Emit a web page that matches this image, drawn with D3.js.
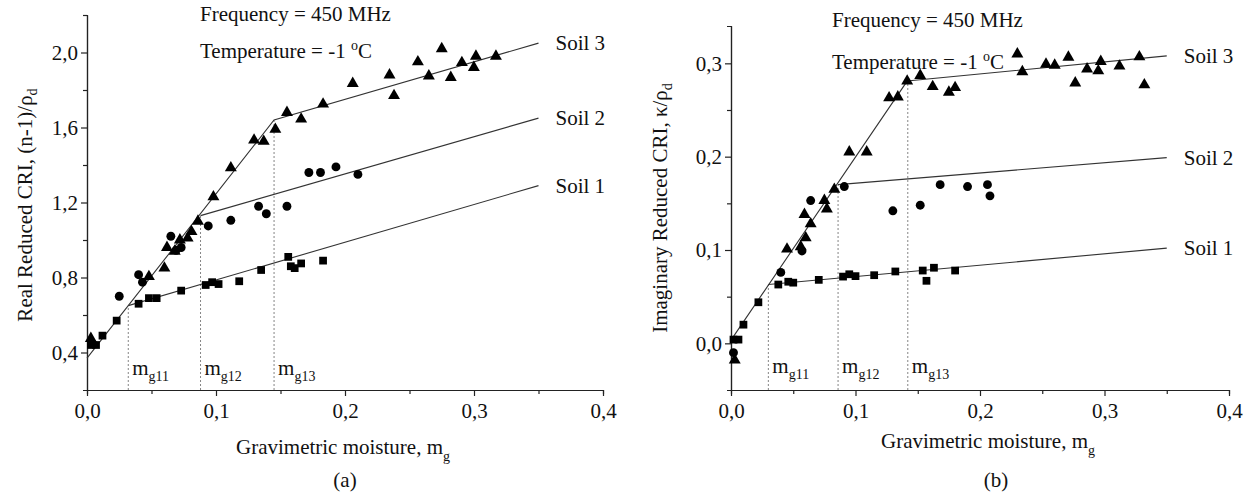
<!DOCTYPE html>
<html>
<head>
<meta charset="utf-8">
<script src="https://cdn.jsdelivr.net/npm/d3@7"></script>
<style>
  html, body { margin: 0; padding: 0; background: #fff; }
  svg text { font-family: "Liberation Serif", "Times New Roman", serif; fill: #111; }
</style>
</head>
<body>
<div id="chart"></div>
<script>
// shared x axis: gravimetric moisture
const xTicks = [0, 0.1, 0.2, 0.3, 0.4];
const xMinorTicks = [0.05, 0.15, 0.25, 0.35];
const breakLabels = ['g11', 'g12', 'g13'];
const soilNames = ['Soil 1', 'Soil 2', 'Soil 3'];

// (a) real reduced CRI
const realYTicks = [0.4, 0.8, 1.2, 1.6, 2.0];
const realYMinorTicks = [0.6, 1.0, 1.4, 1.8, 2.2];
const realSoil1 = [[0.003, 0.44], [0.007, 0.44], [0.012, 0.49], [0.023, 0.57], [0.04, 0.66], [0.048, 0.69],
  [0.054, 0.69], [0.073, 0.73], [0.092, 0.76], [0.097, 0.775], [0.102, 0.765], [0.118, 0.78], [0.135, 0.84],
  [0.156, 0.91], [0.158, 0.86], [0.161, 0.85], [0.166, 0.875], [0.183, 0.89]];
const realSoil2 = [[0.004, 0.45], [0.025, 0.70], [0.040, 0.815], [0.043, 0.775], [0.065, 1.02], [0.069, 0.945],
  [0.073, 0.96], [0.094, 1.075], [0.1115, 1.105], [0.133, 1.18], [0.139, 1.14], [0.155, 1.18], [0.172, 1.36],
  [0.181, 1.36], [0.193, 1.39], [0.21, 1.35]];
const realSoil3 = [[0.003, 0.475], [0.048, 0.805], [0.06, 0.85], [0.062, 0.96], [0.068, 0.94], [0.072, 1.0],
  [0.078, 1.01], [0.081, 1.045], [0.086, 1.10], [0.098, 1.23], [0.1115, 1.385], [0.1295, 1.533], [0.137, 1.526],
  [0.146, 1.59], [0.155, 1.68], [0.166, 1.645], [0.183, 1.725], [0.206, 1.835], [0.2345, 1.88], [0.238, 1.77],
  [0.2565, 1.95], [0.265, 1.875], [0.275, 2.02], [0.282, 1.867], [0.2906, 1.946], [0.2999, 1.92], [0.3015, 1.98],
  [0.317, 1.98]];
const realFit1 = [[0.032, 0.65], [0.35, 1.29]];
const realFit2 = [[0.088, 1.13], [0.35, 1.65]];
const realFit3 = [[0, 0.37], [0.145, 1.64], [0.35, 2.05]];
const realBreakX = [0.032, 0.088, 0.145];
const realBreakY = [0.65, 1.13, 1.64];

// (b) imaginary reduced CRI
const imagYTicks = [0.0, 0.1, 0.2, 0.3];
const imagYMinorTicks = [0.05, 0.15, 0.25];
const imagSoil1 = [[0.002, 0.004], [0.006, 0.004], [0.01, 0.02], [0.022, 0.044], [0.038, 0.063], [0.046, 0.066],
  [0.05, 0.065], [0.0705, 0.068], [0.09, 0.0715], [0.095, 0.074], [0.1, 0.072], [0.115, 0.073], [0.132, 0.077],
  [0.154, 0.078], [0.157, 0.067], [0.163, 0.081], [0.18, 0.078]];
const imagSoil2 = [[0.002, -0.01], [0.04, 0.076], [0.057, 0.099], [0.064, 0.153], [0.091, 0.168], [0.13, 0.142],
  [0.152, 0.148], [0.168, 0.17], [0.19, 0.168], [0.206, 0.17], [0.208, 0.158]];
const imagSoil3 = [[0.003, -0.018], [0.045, 0.101], [0.056, 0.1035], [0.06, 0.113], [0.064, 0.128], [0.059, 0.138],
  [0.075, 0.153], [0.077, 0.144], [0.083, 0.165], [0.095, 0.205], [0.109, 0.205], [0.127, 0.263], [0.134, 0.264],
  [0.1415, 0.281], [0.152, 0.287], [0.162, 0.275], [0.175, 0.269], [0.18, 0.274], [0.23, 0.31], [0.234, 0.291],
  [0.253, 0.299], [0.26, 0.298], [0.271, 0.3065], [0.2765, 0.279], [0.286, 0.294], [0.295, 0.292], [0.297, 0.302],
  [0.312, 0.297], [0.328, 0.307], [0.332, 0.277]];
const imagFit1 = [[0.030, 0.063], [0.35, 0.102]];
const imagFit2 = [[0.086, 0.17], [0.35, 0.199]];
const imagFit3 = [[0, 0.0035], [0.1415, 0.281], [0.35, 0.308]];
const imagBreakX = [0.030, 0.086, 0.142];
const imagBreakY = [0.063, 0.170, 0.281];

const width = 1245;
const height = 495;
const axisY = 390;
const fontSize = 21;
const subSize = 14;

const svg = d3.select('#chart')
  .append('svg')
  .attr('width', width)
  .attr('height', height);

const comma = d => d3.format('.1f')(d).replace('.', ',');

function styleAxis(sel) {
  sel.attr('font-family', null).attr('font-size', fontSize);
  sel.selectAll('.domain, line').attr('stroke', '#222').attr('stroke-width', 1.2);
  sel.selectAll('text').attr('fill', '#111');
}

function drawPanel(cfg) {
  const x = d3.scaleLinear().domain([0, 0.4]).range(cfg.xRange);
  const y = d3.scaleLinear().domain(cfg.yDomain).range([axisY, cfg.yTop]);
  const g = svg.append('g');

  // minor ticks
  g.append('g')
    .attr('transform', `translate(0,${axisY})`)
    .call(d3.axisBottom(x).tickValues(xMinorTicks).tickSize(4).tickFormat(''))
    .call(styleAxis);
  g.append('g')
    .attr('transform', `translate(${cfg.xRange[0]},0)`)
    .call(d3.axisLeft(y).tickValues(cfg.yMinor).tickSize(4).tickFormat(''))
    .call(styleAxis);

  // major axes
  g.append('g')
    .attr('transform', `translate(0,${axisY})`)
    .call(d3.axisBottom(x).tickValues(xTicks).tickSize(6).tickSizeOuter(0).tickPadding(7).tickFormat(comma))
    .call(styleAxis);
  g.append('g')
    .attr('transform', `translate(${cfg.xRange[0]},0)`)
    .call(d3.axisLeft(y).tickValues(cfg.yTicks).tickSize(6).tickSizeOuter(0).tickPadding(3).tickFormat(comma))
    .call(styleAxis);

  // dotted break lines with m_g labels
  cfg.breakX.forEach((bx, i) => {
    g.append('line')
      .attr('x1', x(bx)).attr('x2', x(bx))
      .attr('y1', axisY).attr('y2', y(cfg.breakY[i]))
      .attr('stroke', '#777')
      .attr('stroke-width', 0.9)
      .attr('stroke-dasharray', '2,2');
    const t = g.append('text')
      .attr('x', x(bx) + 4)
      .attr('y', cfg.mLabelY)
      .attr('font-size', fontSize);
    t.append('tspan').text('m');
    t.append('tspan').attr('font-size', subSize).attr('dy', 6).text(breakLabels[i]);
  });

  // fitted lines
  const line = d3.line().x(d => x(d[0])).y(d => y(d[1]));
  cfg.fits.forEach((fit, i) => {
    g.append('path')
      .datum(fit)
      .attr('d', line)
      .attr('fill', 'none')
      .attr('stroke', '#333')
      .attr('stroke-width', 1.1);
    const end = fit[fit.length - 1];
    g.append('text')
      .attr('x', x(end[0]) + 17)
      .attr('y', y(end[1]) + 7)
      .attr('font-size', fontSize)
      .text(soilNames[i]);
  });

  // measured points
  const shapes = [d3.symbolSquare, d3.symbolCircle, d3.symbolTriangle];
  const sizes = [60, 62, 62];
  cfg.soils.forEach((pts, i) => {
    g.append('g')
      .selectAll('path')
      .data(pts)
      .join('path')
      .attr('transform', d => `translate(${x(d[0])},${y(d[1])})`)
      .attr('d', d3.symbol(shapes[i], sizes[i]))
      .attr('fill', '#000');
  });

  // conditions
  g.append('text')
    .attr('x', cfg.noteX).attr('y', cfg.noteY)
    .attr('font-size', fontSize)
    .text('Frequency = 450 MHz');
  const temp = g.append('text')
    .attr('x', cfg.noteX).attr('y', cfg.noteY + cfg.noteGap)
    .attr('font-size', fontSize);
  temp.append('tspan').text('Temperature = -1 ');
  temp.append('tspan').attr('font-size', subSize).attr('dy', -8).text('o');
  temp.append('tspan').attr('dy', 8).text('C');

  // axis titles
  const yt = g.append('text')
    .attr('transform', `translate(${cfg.yTitleX},${cfg.yTitleY}) rotate(-90)`)
    .attr('text-anchor', 'middle')
    .attr('font-size', fontSize);
  yt.append('tspan').text(cfg.yTitle);
  yt.append('tspan').attr('font-size', subSize).attr('dy', 5).text('d');

  const xt = g.append('text')
    .attr('x', cfg.xTitleX).attr('y', cfg.xTitleY)
    .attr('text-anchor', 'middle')
    .attr('font-size', fontSize);
  xt.append('tspan').text('Gravimetric moisture, m');
  xt.append('tspan').attr('font-size', subSize).attr('dy', 7).text('g');

  g.append('text')
    .attr('x', cfg.capX).attr('y', 487)
    .attr('text-anchor', 'middle')
    .attr('font-size', fontSize)
    .text(cfg.caption);
}

drawPanel({
  xRange: [87, 603],
  yDomain: [0.2, 2.2],
  yTop: 15,
  yTicks: realYTicks,
  yMinor: realYMinorTicks,
  soils: [realSoil1, realSoil2, realSoil3],
  fits: [realFit1, realFit2, realFit3],
  breakX: realBreakX,
  breakY: realBreakY,
  mLabelY: 375,
  noteX: 200, noteY: 21, noteGap: 37,
  yTitle: 'Real Reduced CRI, (n-1)/ρ',
  yTitleX: 32, yTitleY: 205,
  xTitleX: 343, xTitleY: 454,
  capX: 345, caption: '(a)'
});

drawPanel({
  xRange: [731, 1229],
  yDomain: [-0.05, 0.34],
  yTop: 26,
  yTicks: imagYTicks,
  yMinor: imagYMinorTicks,
  soils: [imagSoil1, imagSoil2, imagSoil3],
  fits: [imagFit1, imagFit2, imagFit3],
  breakX: imagBreakX,
  breakY: imagBreakY,
  mLabelY: 373,
  noteX: 832, noteY: 27, noteGap: 42,
  yTitle: 'Imaginary Reduced CRI, κ/ρ',
  yTitleX: 667, yTitleY: 208,
  xTitleX: 988, xTitleY: 448,
  capX: 996, caption: '(b)'
});
</script>
</body>
</html>
